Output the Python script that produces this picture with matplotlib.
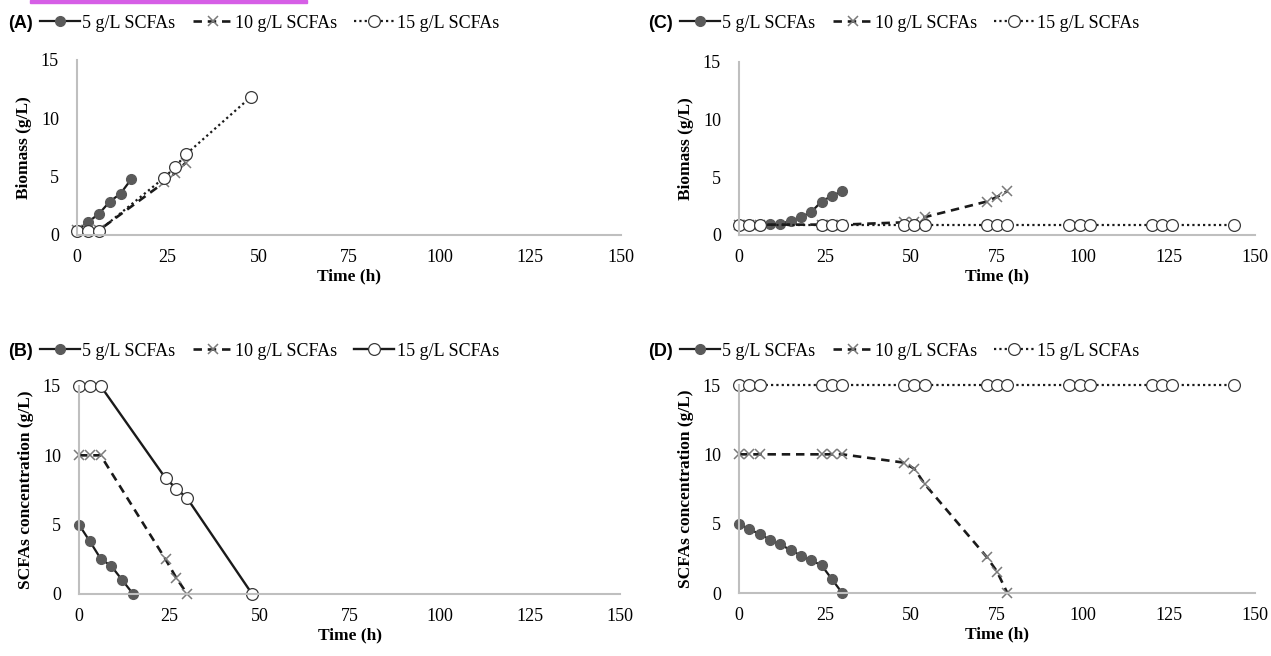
import numpy as np
import matplotlib
matplotlib.use("Agg")
import matplotlib.pyplot as plt
from matplotlib.patches import Rectangle

plt.rcParams["font.family"] = ["Liberation Serif", "DejaVu Serif"]

# ---- data ----
labels = ["5 g/L SCFAs", "10 g/L SCFAs", "15 g/L SCFAs"]

# (A) biomass
tA5 = [0, 3, 6, 9, 12, 15]
bA5 = [0.4, 1.1, 1.8, 2.85, 3.55, 4.8]
tA10 = [0, 3, 6, 24, 27, 30]
bA10 = [0.4, 0.4, 0.4, 4.5, 5.3, 6.2]
tA15 = [0, 3, 6, 24, 27, 30, 48]
bA15 = [0.35, 0.35, 0.35, 4.9, 5.8, 6.9, 11.85]

# (B) SCFAs concentration
sB5 = [5, 3.8, 2.55, 2.0, 1.0, 0]
sB10 = [10, 10, 10, 2.5, 1.15, 0]
sB15 = [15, 15, 15, 8.35, 7.6, 6.9, 0]

# (C) biomass
tC5 = [0, 3, 6, 9, 12, 15, 18, 21, 24, 27, 30]
bC5 = [0.9, 0.9, 0.9, 0.93, 0.93, 1.25, 1.55, 2.0, 2.9, 3.4, 3.8]
tC10 = [0, 3, 6, 24, 27, 30, 48, 51, 54, 72, 75, 78]
bC10 = [0.9, 0.9, 0.9, 0.9, 0.9, 0.9, 1.1, 1.15, 1.55, 2.9, 3.3, 3.8]
tC15 = [0, 3, 6, 24, 27, 30, 48, 51, 54, 72, 75, 78, 96, 99, 102, 120, 123, 126, 144]
bC15 = [0.9] * len(tC15)

# (D) SCFAs concentration
sD5 = [5, 4.6, 4.25, 3.85, 3.5, 3.1, 2.7, 2.35, 2.0, 1.0, 0]
sD10 = [10, 10, 10, 10, 10, 10, 9.4, 8.95, 7.85, 2.6, 1.55, 0]
sD15 = [15] * len(tC15)

xticks = [0, 25, 50, 75, 100, 125, 150]
yticks = [0, 5, 10, 15]

W, H = 1271, 656
fig = plt.figure(figsize=(W / 100, H / 100), dpi=100)


def ax_at(l, t, r, b):
    return fig.add_axes([l / W, 1 - b / H, (r - l) / W, (b - t) / H])


STY5 = dict(color="#1a1a1a", lw=1.6, ls="-", marker="o", ms=7,
            mfc="#5a5a5a", mec="#5a5a5a")
STY10 = dict(color="#1a1a1a", lw=1.9, ls=(0, (3.2, 2.2)), marker="x", ms=7.5,
             mec="#7a7a7a", mew=1.1)
STY15d = dict(color="#1a1a1a", lw=1.6, ls=(0, (1, 1.4)), marker="o", ms=8.5,
              mfc="white", mec="#3a3a3a", mew=0.9)
STY15s = dict(STY15d, ls="-", lw=1.7)


def style(ax, ylabel):
    ax.set_xlim(0, 150)
    ax.set_ylim(0, 15)
    ax.set_xticks(xticks)
    ax.set_yticks(yticks)
    for s in ["top", "right"]:
        ax.spines[s].set_visible(False)
    for s in ["left", "bottom"]:
        ax.spines[s].set_color("#bfbfbf")
        ax.spines[s].set_linewidth(1.5)
    ax.tick_params(length=0, labelsize=13)
    ax.tick_params(axis="x", pad=10)
    ax.tick_params(axis="y", pad=13)
    ax.set_xlabel("Time (h)", fontsize=12.5, fontweight="bold", labelpad=2)
    ax.set_ylabel(ylabel, fontsize=12.5, fontweight="bold", labelpad=6)


def panel(ax, series, letter, lx, ly):
    handles = []
    for t, y, st in series:
        (h,) = ax.plot(t, y, clip_on=False, **st)
        handles.append(h)
    fig.text(lx / W, 1 - ly / H, letter, family="Liberation Sans",
             fontweight="bold", fontsize=13, va="center", ha="left")
    fig.legend(handles, labels, loc="center left",
               bbox_to_anchor=((lx + 32) / W, 1 - ly / H), ncol=3,
               frameon=False, fontsize=13, handlelength=2.2,
               handletextpad=0.15, columnspacing=0.95, borderpad=0,
               borderaxespad=0)


axA = ax_at(77, 60, 621, 235)
panel(axA, [(tA5, bA5, STY5), (tA10, bA10, STY10), (tA15, bA15, STY15d)],
      "(A)", 8, 23)
style(axA, "Biomass (g/L)")

axB = ax_at(79, 386, 620, 594)
panel(axB, [(tA5, sB5, STY5), (tA10, sB10, STY10), (tA15, sB15, STY15s)],
      "(B)", 8, 351)
style(axB, "SCFAs concentration (g/L)")

axC = ax_at(739, 62, 1255, 235)
panel(axC, [(tC5, bC5, STY5), (tC10, bC10, STY10), (tC15, bC15, STY15d)],
      "(C)", 648, 23)
style(axC, "Biomass (g/L)")

axD = ax_at(739, 385, 1255, 593)
panel(axD, [(tC5, sD5, STY5), (tC10, sD10, STY10), (tC15, sD15, STY15d)],
      "(D)", 648, 351)
style(axD, "SCFAs concentration (g/L)")

# highlight bar along the top edge
fig.patches.append(Rectangle((30 / W, 1 - 3 / H), 277 / W, 3 / H,
                             transform=fig.transFigure, color="#d65fe6"))

fig.savefig("out.png", dpi=100)
